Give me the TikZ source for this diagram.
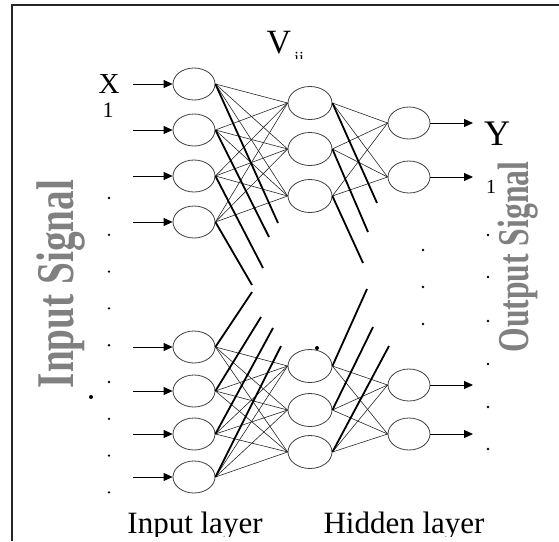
\documentclass[tikz,border=0pt]{standalone}
\usepackage{fontspec}
\setmainfont{Liberation Serif}
\usetikzlibrary{arrows.meta,shapes.geometric}
\definecolor{sigcol}{RGB}{128,128,128}
\begin{document}
\begin{tikzpicture}[x=1pt,y=-1pt,
  neuron/.style={draw=black!75, line width=0.8pt, ellipse, minimum width=42pt, minimum height=32pt, inner sep=0pt},
  hneuron/.style={neuron, minimum width=44pt, minimum height=33pt},
  conn/.style={line width=0.6pt, black!85},
  heavy/.style={line width=1.8pt, black},
  sigarrow/.style={-{Triangle[length=9pt,width=8pt]}, line width=0.8pt},
  pt/.style={circle, fill=black, inner sep=0pt, minimum size=2.6pt},
  bigpt/.style={circle, fill=black, inner sep=0pt, minimum size=4pt},
  sig/.style={text=sigcol, inner sep=0pt, rotate=90, anchor=base},
  lbl/.style={inner sep=0pt, anchor=base}
]
\useasboundingbox (0,0) rectangle (559,541);
% frame
\draw[line width=2pt, black!85] (12,541) -- (12,5) -- (559,5);

% neurons
\foreach \n/\y in {i1/84,i2/130,i3/176,i4/222,j1/347,j2/391,j3/434,j4/477}
  \node[neuron] (\n) at (194,\y) {};
\foreach \n/\y in {h1/103,h2/149,h3/196,k1/366,k2/410,k3/452}
  \node[hneuron] (\n) at (310,\y) {};
\foreach \n/\y in {o1/123,o2/177,p1/385,p2/434}
  \node[neuron] (\n) at (409,\y) {};

% input arrows
\foreach \n/\y in {i1/84,i2/130,i3/176,i4/222,j1/347,j2/391,j3/434,j4/477}{
  \coordinate (s\n) at (133,\y);
  \draw[sigarrow] (s\n) -- (\n.west);
}
% output arrows
\foreach \n/\y in {o1/123,o2/177,p1/385,p2/434}{
  \coordinate (e\n) at (473,\y);
  \draw[sigarrow] (\n.east) -- (e\n);
}

% connections
\foreach \a in {i1,i2,i3,i4}
  \foreach \b in {h1,h2,h3}
    \draw[conn] (\a.east) -- (\b.west);
\foreach \a in {j1,j2,j3,j4}
  \foreach \b in {k1,k2,k3}
    \draw[conn] (\a.east) -- (\b.west);
\foreach \a in {h1,h2,h3}
  \foreach \b in {o1,o2}
    \draw[conn] (\a.east) -- (\b.west);
\foreach \a in {k1,k2,k3}
  \foreach \b in {p1,p2}
    \draw[conn] (\a.east) -- (\b.west);

% heavy partial connections
\foreach \n/\x/\y in {i1/278/223,i2/269/237,i3/263/268,i4/252/285,
                      h1/377/203,h2/368/232,h3/363/263,
                      j1/252/292,j2/261/317,j3/273/328,j4/281/346,
                      k1/367/289,k2/373/327,k3/389/346}{
  \coordinate (t\n) at (\x,\y);
  \draw[heavy] (\n.east) -- (t\n);
}

% dots
\foreach \k in {0,...,8}
  \node[pt] (dl\k) at (109,{198+36.8*\k}) {};
\foreach \y [count=\k] in {235,277,321,364,407,449}
  \node[pt] (dr\k) at (488,\y) {};
\foreach \y [count=\k] in {250,287,324}
  \node[pt] (dm\k) at (423,\y) {};
\node[bigpt] (bd1) at (91,397) {};
\node[bigpt] (bd2) at (317,348) {};

% labels
\node[lbl, font=\fontsize{29}{29}\selectfont] (lx) at (109,93) {X};
\node[lbl, font=\fontsize{22}{22}\selectfont] (lx1) at (108,117) {1};
\node[lbl, font=\fontsize{34}{34}\selectfont] (lv) at (279,53) {V};
\begin{scope}
  \clip (290,40) rectangle (312,58);
  \node[lbl, font=\fontsize{17}{17}\selectfont] (lij) at (299,63) {ij};
\end{scope}
\node[lbl, font=\fontsize{36}{36}\selectfont] (ly) at (497,145) {Y};
\node[lbl, font=\fontsize{20}{20}\selectfont] (ly1) at (491,193) {1};

\node[sig, font=\fontsize{53}{53}\selectfont\bfseries] (isig) at (73,284) {\scalebox{0.74}[1]{Input Signal}};
\node[sig, font=\fontsize{44}{44}\selectfont\bfseries] (osig) at (528,257) {\scalebox{0.72}[1]{Output Signal}};

\begin{scope}
  \clip (0,0) rectangle (559,536);
  \node[lbl, font=\fontsize{31}{31}\selectfont] (lin) at (195,533) {Input layer};
  \node[lbl, font=\fontsize{31}{31}\selectfont] (lhid) at (404,533) {Hidden layer};
\end{scope}
\end{tikzpicture}
\end{document}
